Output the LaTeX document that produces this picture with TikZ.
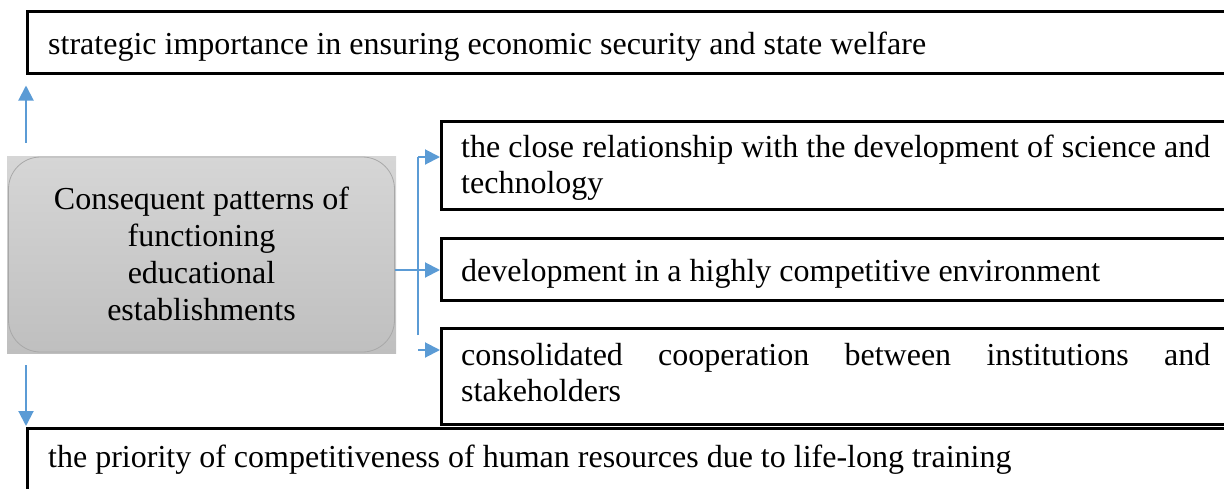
\documentclass[tikz,border=0pt]{standalone}
\usepackage{fontspec}
\setmainfont{Liberation Serif}
\newfontfamily\tnr{Liberation Serif}
\usetikzlibrary{arrows.meta,calc}
\definecolor{arrblue}{HTML}{5B9BD5}
\definecolor{gtop}{HTML}{D6D6D6}
\definecolor{gbot}{HTML}{BFBFBF}
\definecolor{gline}{HTML}{A8A8A8}
\begin{document}
\begin{tikzpicture}[x=1pt,y=-1pt,
  box/.style={draw=black, line width=2.5pt, rectangle, inner sep=0pt, anchor=north west},
  txt/.style={inner sep=0pt, anchor=base west, font=\tnr\fontsize{32}{36}\selectfont},
  arr/.style={draw=arrblue, line width=2pt, -{Triangle[length=15pt,width=15pt]}},
  bus/.style={draw=arrblue, line width=2pt}]
\useasboundingbox (0,0) rectangle (1224,488);
\clip (0,0) rectangle (1224,488);
% boxes
\node[box, minimum width=1220pt, minimum height=62pt] (top) at (26,10) {};
\node[txt] (toptxt) at (48,54) {strategic importance in ensuring economic security and state welfare};
\begin{scope}
\clip (440,120) rectangle (1240,200);
\node[txt, text width=749pt, align=justify] (b1txt) at (461,157) {the close relationship with the development of science and\linebreak technology};
\end{scope}
\node[box, minimum width=800pt, minimum height=88pt] (b1) at (440,120) {};
\node[box, minimum width=800pt, minimum height=62pt] (b2) at (440,237) {};
\node[txt] (b2txt) at (461,281) {development in a highly competitive environment};
\node[box, minimum width=800pt, minimum height=96pt] (b3) at (440,327) {};
\node[txt, text width=749pt, align=justify] (b3txt) at (461,365) {consolidated cooperation between institutions and\linebreak stakeholders};
\node[box, minimum width=1220pt, minimum height=80pt] (bot) at (26,427) {};
\node[txt] (bottxt) at (48,467) {the priority of competitiveness of human resources due to life-long training};
% gray box
\shade[top color=gtop, bottom color=gbot] (7,156) rectangle (396,353);
\node[draw=gline, line width=0.8pt, rounded corners=32pt, minimum width=386pt, minimum height=195pt, anchor=center, inner sep=0pt] (gray) at (201.5,254.5) {};
\node[inner sep=0pt, align=center, font=\tnr\fontsize{32}{37}\selectfont] (graytxt) at (201.5,254) {Consequent patterns of\\functioning\\educational\\establishments};
% connectors
\draw[arr, shorten <=14pt, shorten >=11pt] (top.south west |- gray.north) -- (top.south west);
\draw[arr, shorten <=13pt, shorten >=1pt] (bot.north west |- gray.south) -- (bot.north west);
\coordinate (bustop) at (418,157);
\coordinate (busbot) at (418,335);
\coordinate (t1) at (b1.west |- bustop);
\coordinate (m2) at (gray.east |- 0,270);
\coordinate (t2) at (b2.west |- m2);
\coordinate (s3) at (418,350);
\coordinate (t3) at (b3.west |- s3);
\draw[bus] (busbot) -- (bustop);
\draw[arr] (bustop) -- (t1);
\draw[arr] (m2) -- (t2);
\draw[arr] (s3) -- (t3);
\end{tikzpicture}
\end{document}
